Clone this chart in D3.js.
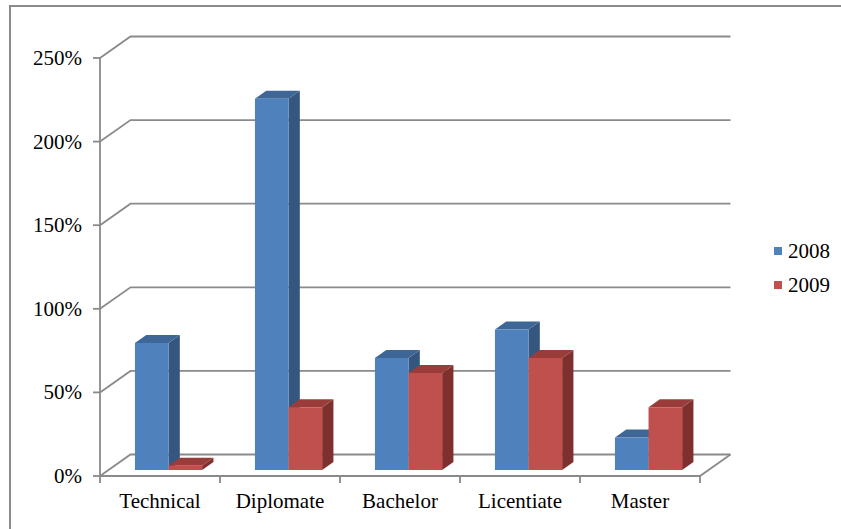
<!DOCTYPE html>
<html><head><meta charset="utf-8">
<script src="https://cdn.jsdelivr.net/npm/d3@7"></script>
<style>html,body{margin:0;padding:0;background:#fff;}svg{display:block;} text{font-family:"Liberation Serif","Times New Roman",Times,Tinos,"DejaVu Serif",serif;}</style>
</head><body>
<script>
const categories = ["Technical", "Diplomate", "Bachelor", "Licentiate", "Master"];
const seriesNames = ["2008", "2009"];
const values2008 = [76, 222, 67, 84, 19.5];
const values2009 = [2.5, 37.5, 58, 67, 37.5];
const yTicks = [0, 50, 100, 150, 200, 250];
const yTickLabels = ["0%", "50%", "100%", "150%", "200%", "250%"];

const W = 841, H = 529;
const DX = 30.5, DY = 21.5;      // depth projection of the floor
const D0 = 0.28, D1 = 0.65;      // bar depth range
const colors = {
  "2008": {front: "#4F81BD", top: "#3E6798", side: "#34567F"},
  "2009": {front: "#C0504D", top: "#9A3D3A", side: "#7E302E"}
};
const gridColor = "#8a8a8a";

const svg = d3.select("body").append("svg").attr("width", W).attr("height", H);

svg.append("path").attr("d", `M10,${H} L10,6 L${W},6`)
  .attr("fill", "none").attr("stroke", gridColor).attr("stroke-width", 2);

const x0 = d3.scaleBand().domain(categories).range([100, 700]);
const x1 = d3.scaleBand().domain(seriesNames).range([x0.bandwidth() * 0.22, x0.bandwidth() * 0.78]);
const y = d3.scaleLinear().domain([0, 250]).range([476, 58]);

const P = (x, v, d) => [x + d * DX, y(v) - d * DY];

const g = svg.append("g");
yTicks.forEach(t => {
  const a = P(100, t, 0), b = P(100, t, 1), c = P(700, t, 1);
  g.append("path").attr("d", `M${a} L${b} L${c}`)
    .attr("fill", "none").attr("stroke", gridColor).attr("stroke-width", 1.8);
});
{
  const a = P(100, 0, 0), b = P(700, 0, 0), c = P(700, 0, 1);
  g.append("path").attr("d", `M${a} L${b} L${c}`)
    .attr("fill", "none").attr("stroke", gridColor).attr("stroke-width", 1.8);
}
g.append("line").attr("x1", 100).attr("x2", 100).attr("y1", y(0)).attr("y2", y(250))
  .attr("stroke", gridColor).attr("stroke-width", 1.8);
yTicks.forEach((t, i) => {
  g.append("line").attr("x1", 93).attr("x2", 100).attr("y1", y(t)).attr("y2", y(t))
    .attr("stroke", gridColor).attr("stroke-width", 1.8);
  g.append("text").attr("x", 82).attr("y", y(t) + 7).attr("text-anchor", "end")
    .attr("font-size", 21).attr("fill", "#000").text(yTickLabels[i]);
});
const xt = categories.map(c => x0(c)).concat([700]);
xt.forEach(xx => {
  g.append("line").attr("x1", xx).attr("x2", xx).attr("y1", y(0)).attr("y2", y(0) + 7)
    .attr("stroke", gridColor).attr("stroke-width", 1.8);
});
categories.forEach(c => {
  g.append("text").attr("x", x0(c) + x0.bandwidth() / 2).attr("y", 508).attr("text-anchor", "middle")
    .attr("font-size", 21).attr("fill", "#000").text(c);
});

const data = [];
categories.forEach((c, i) => {
  data.push({cat: c, s: "2008", v: values2008[i]});
  data.push({cat: c, s: "2009", v: values2009[i]});
});
const bars = svg.append("g");
const poly = pts => pts.map(p => p.join(",")).join(" ");
data.forEach(d => {
  const xl = x0(d.cat) + x1(d.s), xr = xl + x1.bandwidth();
  const col = colors[d.s];
  bars.append("polygon").attr("points", poly([P(xr, 0, D0), P(xr, 0, D1), P(xr, d.v, D1), P(xr, d.v, D0)]))
    .attr("fill", col.side);
  bars.append("polygon").attr("points", poly([P(xl, d.v, D0), P(xl, d.v, D1), P(xr, d.v, D1), P(xr, d.v, D0)]))
    .attr("fill", col.top);
  bars.append("polygon").attr("points", poly([P(xl, 0, D0), P(xr, 0, D0), P(xr, d.v, D0), P(xl, d.v, D0)]))
    .attr("fill", col.front);
});

const leg = svg.append("g");
seriesNames.forEach((s, i) => {
  const ly = 251 + i * 34;
  leg.append("rect").attr("x", 774).attr("y", ly - 4).attr("width", 8).attr("height", 8).attr("fill", colors[s].front);
  leg.append("text").attr("x", 788).attr("y", ly + 7).attr("font-size", 21)
    .attr("fill", "#000").text(s);
});
</script>
</body></html>
